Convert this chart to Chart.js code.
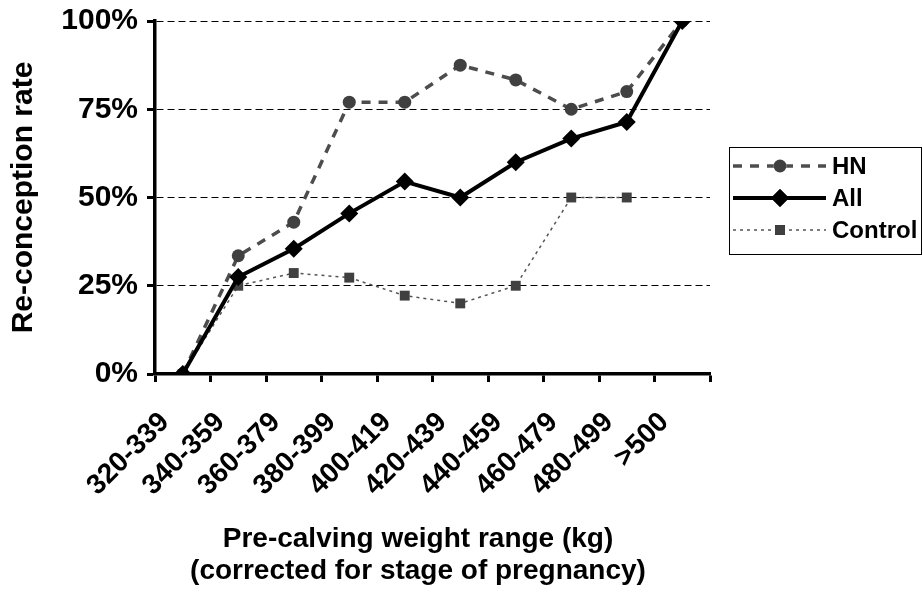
<!DOCTYPE html>
<html>
<head>
<meta charset="utf-8">
<script src="https://cdn.jsdelivr.net/npm/chart.js@4.4.0/dist/chart.umd.min.js"></script>
<style>
    html, body { margin: 0; padding: 0; background: #fff; }
    #wrap { width: 923px; height: 602px; }
</style>
</head>
<body>
<div id="wrap"><canvas id="reconception"></canvas></div>
<script>
// Weight ranges on the x axis
const weightRanges = ['320-339', '340-359', '360-379', '380-399', '400-419', '420-439', '440-459', '460-479', '480-499', '>500'];

// Re-conception rate (%) per group
const hnRates = [0, 33.5, 43, 77, 77, 87.5, 83.3, 75, 80, 100];
const allRates = [0, 27.5, 35.5, 45.5, 54.5, 50, 60, 66.7, 71.4, 100];
const controlRates = [0, 25, 28.6, 27.3, 22.2, 20, 25, 50, 50, null];

const yTicks = [0, 25, 50, 75, 100];
const xTitle = ['Pre-calving weight range (kg)', '(corrected for stage of pregnancy)'];

const FONT = 'Liberation Sans, Arial, sans-serif';

const datasets = [
    {
        label: 'HN',
        data: hnRates,
        borderColor: '#4d4d4d',
        backgroundColor: '#404040',
        borderWidth: 3.5,
        borderDash: [9, 8],
        pointStyle: 'circle',
        pointRadius: 6.5,
        pointBorderWidth: 0,
        order: 3
    },
    {
        label: 'All',
        data: allRates,
        borderColor: '#000',
        backgroundColor: '#000',
        borderWidth: 4,
        pointStyle: 'rectRot',
        pointRadius: 9,
        pointBorderWidth: 0,
        order: 1
    },
    {
        label: 'Control',
        data: controlRates,
        borderColor: '#555',
        backgroundColor: '#404040',
        borderWidth: 1.5,
        borderDash: [3, 4],
        pointStyle: 'rect',
        pointRadius: 7,
        pointBorderWidth: 0,
        order: 2
    }
];

// Legend box drawn by hand (Excel style: line with marker in the middle)
const boxLegend = {
    id: 'boxLegend',
    afterDraw(chart) {
        const ctx = chart.ctx;
        const x0 = 729, y0 = 147, w = 192, h = 107;
        ctx.save();
        ctx.fillStyle = '#fff';
        ctx.fillRect(x0, y0, w, h);
        ctx.strokeStyle = '#000';
        ctx.lineWidth = 1;
        ctx.strokeRect(x0 + 0.5, y0 + 0.5, w, h);

        chart.data.datasets.forEach((ds, i) => {
            const y = 166 + i * 32;
            ctx.beginPath();
            ctx.setLineDash(ds.borderDash || []);
            ctx.lineWidth = ds.borderWidth;
            ctx.strokeStyle = ds.borderColor;
            ctx.moveTo(733, y);
            ctx.lineTo(826, y);
            ctx.stroke();
            ctx.setLineDash([]);
            Chart.helpers.drawPoint(ctx, {
                pointStyle: ds.pointStyle,
                radius: ds.pointRadius,
                borderWidth: 0
            }, 780, y);
            ctx.fillStyle = ds.backgroundColor;
            ctx.fill();

            ctx.fillStyle = '#000';
            ctx.font = 'bold 24px ' + FONT;
            ctx.textBaseline = 'middle';
            ctx.textAlign = 'left';
            ctx.fillText(ds.label, 832, y + 1);
        });
        ctx.restore();
    }
};

// x axis title, sits a bit left of the plot centre like in the original
const xAxisTitle = {
    id: 'xAxisTitle',
    afterDraw(chart) {
        const ctx = chart.ctx;
        ctx.save();
        ctx.fillStyle = '#000';
        ctx.font = 'bold 28px ' + FONT;
        ctx.textAlign = 'center';
        ctx.textBaseline = 'alphabetic';
        xTitle.forEach((line, i) => {
            ctx.fillText(line, 418, 547 + i * 32);
        });
        ctx.restore();
    }
};

new Chart(document.getElementById('reconception'), {
    type: 'line',
    data: {
        labels: weightRanges,
        datasets: datasets
    },
    options: {
        responsive: true,
        maintainAspectRatio: false,
        animation: false,
        layout: {
            padding: { left: 0, right: 213, top: 21, bottom: 0 }
        },
        plugins: {
            legend: { display: false },
            tooltip: { enabled: false }
        },
        elements: {
            line: { tension: 0, fill: false }
        },
        scales: {
            x: {
                offset: true,
                border: { display: true, color: '#000', width: 3.5 },
                grid: {
                    offset: true,
                    drawOnChartArea: false,
                    drawTicks: true,
                    tickLength: 8,
                    tickWidth: 3,
                    tickColor: '#000'
                },
                ticks: {
                    color: '#000',
                    font: { family: FONT, size: 28, weight: 'bold' },
                    minRotation: 45,
                    maxRotation: 45,
                    autoSkip: false,
                    padding: 24,
                    labelOffset: -18
                },
                afterFit: (scale) => { scale.height = 228; }
            },
            y: {
                min: 0,
                max: 100,
                afterBuildTicks: (scale) => {
                    scale.ticks = yTicks.map(v => ({ value: v }));
                },
                border: { display: true, color: '#000', width: 3.5, dash: [7, 4] },
                grid: {
                    drawOnChartArea: true,
                    color: (c) => c.tick && c.tick.value === 0 ? 'rgba(0,0,0,0)' : '#000',
                    lineWidth: 1,
                    tickLength: 8,
                    tickWidth: 3,
                    tickColor: '#000',
                    tickBorderDash: []
                },
                ticks: {
                    color: '#000',
                    font: { family: FONT, size: 30, weight: 'bold', lineHeight: 0.5 },
                    padding: 9,
                    callback: (v) => v + '%'
                },
                title: {
                    display: true,
                    text: 'Re-conception rate',
                    color: '#000',
                    font: { family: FONT, size: 30, weight: 'bold' },
                    padding: { top: 6, bottom: 0 }
                },
                afterFit: (scale) => { scale.width = 155; }
            }
        }
    },
    plugins: [boxLegend, xAxisTitle]
});
</script>
</body>
</html>
